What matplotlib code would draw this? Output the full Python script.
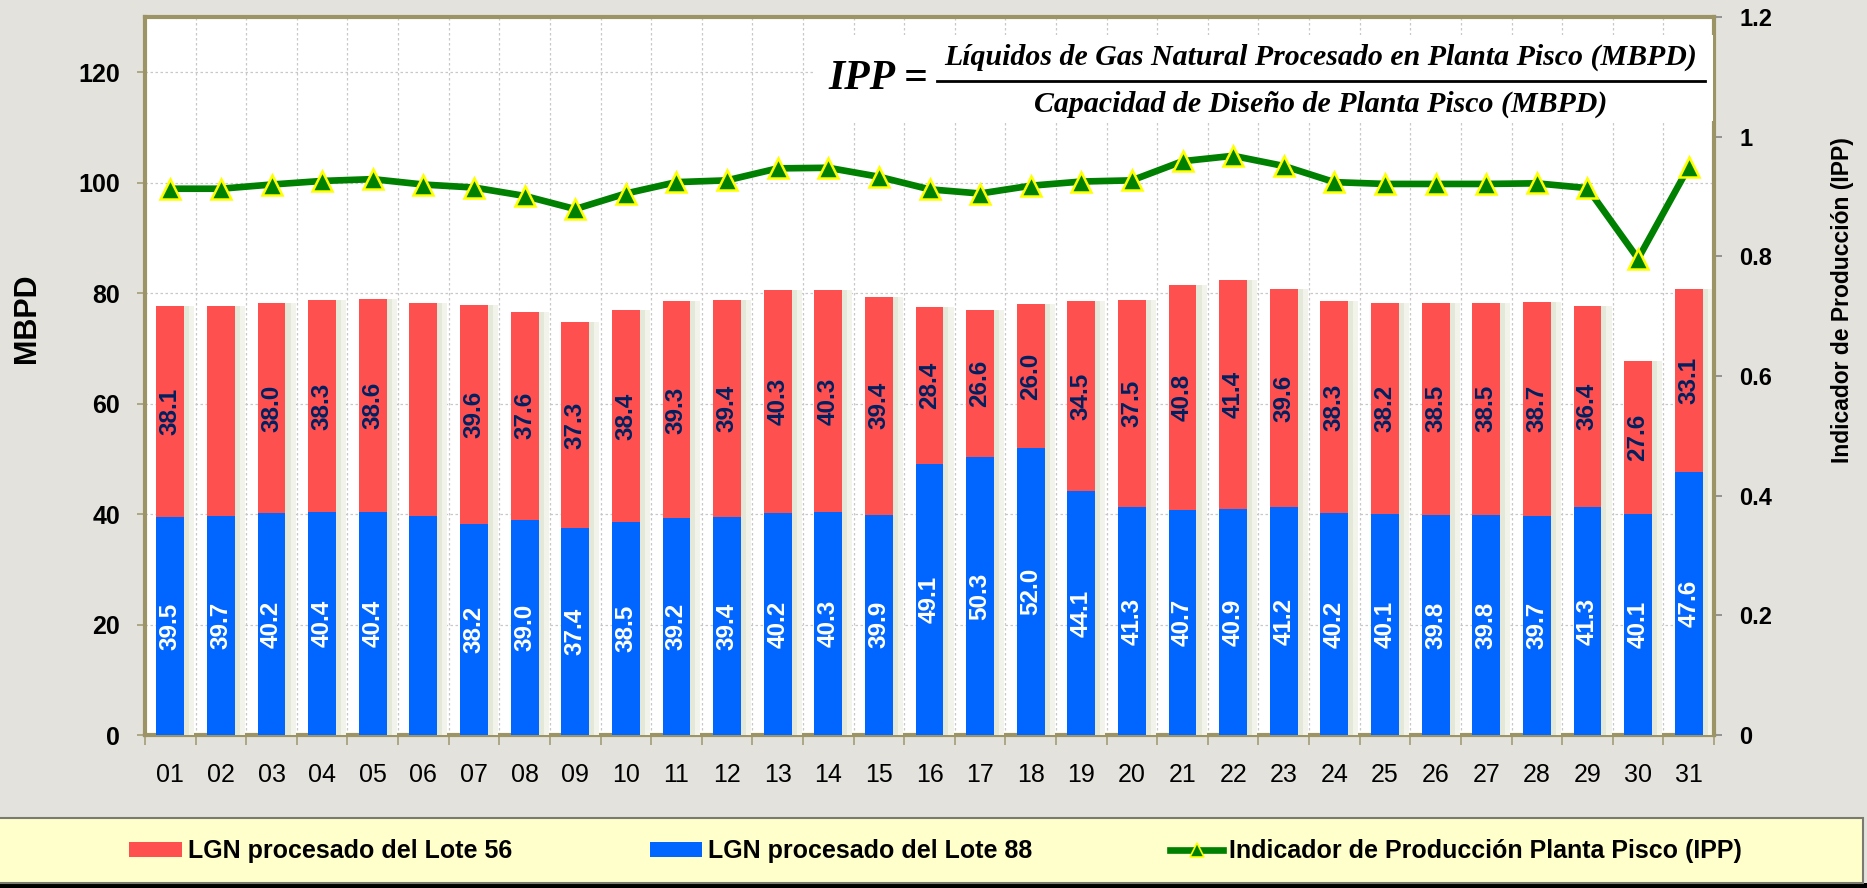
import matplotlib
matplotlib.use('Agg')
import matplotlib.pyplot as plt
import numpy as np
from matplotlib.patches import Rectangle, Patch
from matplotlib.lines import Line2D

# ---------------- data ----------------
days = ['01', '02', '03', '04', '05', '06', '07', '08', '09', '10',
        '11', '12', '13', '14', '15', '16', '17', '18', '19', '20',
        '21', '22', '23', '24', '25', '26', '27', '28', '29', '30', '31']
lote56 = [38.1, 37.9, 38.0, 38.3, 38.6, 38.5, 39.6, 37.6, 37.3, 38.4,
          39.3, 39.4, 40.3, 40.3, 39.4, 28.4, 26.6, 26.0, 34.5, 37.5,
          40.8, 41.4, 39.6, 38.3, 38.2, 38.5, 38.5, 38.7, 36.4, 27.6, 33.1]
lote88 = [39.5, 39.7, 40.2, 40.4, 40.4, 39.7, 38.2, 39.0, 37.4, 38.5,
          39.2, 39.4, 40.2, 40.3, 39.9, 49.1, 50.3, 52.0, 44.1, 41.3,
          40.7, 40.9, 41.2, 40.2, 40.1, 39.8, 39.8, 39.7, 41.3, 40.1, 47.6]
ipp = [0.913, 0.913, 0.920, 0.926, 0.929, 0.920, 0.915, 0.901, 0.879, 0.905,
       0.924, 0.927, 0.947, 0.948, 0.933, 0.912, 0.905, 0.918, 0.925, 0.927,
       0.959, 0.968, 0.951, 0.924, 0.921, 0.921, 0.921, 0.922, 0.914, 0.796, 0.949]
hidden_labels56 = ['02', '06']
hidden_labels88 = ['06']
left_ticks = [0, 20, 40, 60, 80, 100, 120]
right_ticks = [0, 0.2, 0.4, 0.6, 0.8, 1.0, 1.2]
right_tick_labels = ['0', '0.2', '0.4', '0.6', '0.8', '1', '1.2']
series_names = ['LGN procesado del Lote 56', 'LGN procesado del Lote 88',
                'Indicador de Producción Planta Pisco (IPP)']

# ---------------- style ----------------
plt.rcParams['font.family'] = ['Liberation Sans', 'DejaVu Sans']
RED = '#FF5050'
BLUE = '#0066FF'
GREEN = '#008000'
OLIVE = '#9C9464'
BG = '#E3E2DD'
W, H = 1867, 888

fig = plt.figure(figsize=(W / 100, H / 100), dpi=100, facecolor=BG)
ax = fig.add_axes([145 / W, (H - 735) / H, (1714 - 145) / W, (735 - 17) / H])
ax.set_facecolor('white')

x = np.arange(1, len(days) + 1)
totals = np.array(lote56) + np.array(lote88)
bw = 0.55

# soft shadow on the right of the bars
ax.bar(x + 0.20, totals, bw, color='#F2F4EC', lw=0, zorder=2.7)
ax.bar(x + 0.10, totals, bw, color='#E3E8D8', lw=0, zorder=2.8)
ax.bar(x, lote88, bw, color=BLUE, lw=0, zorder=3, label=series_names[1])
ax.bar(x, lote56, bw, bottom=lote88, color=RED, lw=0, zorder=3, label=series_names[0])

for xi, d, b, r in zip(x, days, lote88, lote56):
    if d not in hidden_labels88:
        ax.text(xi, b / 2, f'{b:.1f}', rotation=90, ha='center', va='center',
                color='white', fontsize=17.5, fontweight='bold', zorder=5)
    if d not in hidden_labels56:
        ax.text(xi, b + r / 2, f'{r:.1f}', rotation=90, ha='center', va='center',
                color='#002060', fontsize=17.5, fontweight='bold', zorder=5)

ax.set_xlim(0.5, len(days) + 0.5)
ax.set_ylim(0, 130)
ax.set_yticks(left_ticks)
ax.set_yticklabels([str(t) for t in left_ticks], fontweight='bold')
ax.set_xticks(x)
ax.set_xticklabels(days)
ax.set_xticks(np.arange(0.5, len(days) + 1, 1), minor=True)
ax.tick_params(axis='y', which='major', length=6, width=1.3, color='#A8A27E',
               pad=12, labelsize=18)
ax.tick_params(axis='x', which='major', length=0, pad=20, labelsize=18)
ax.tick_params(axis='x', which='minor', length=7, width=1.3, color='#A8A27E')
ax.yaxis.grid(True, linestyle=(0, (2, 2)), color='#C8C8C8', lw=0.9)
ax.xaxis.grid(True, which='minor', linestyle=(0, (2, 2)), color='#C8C8C8', lw=0.9)
ax.set_axisbelow(True)
for s in ['left', 'bottom', 'top']:
    ax.spines[s].set_color(OLIVE)
    ax.spines[s].set_linewidth(3)
ax.spines['right'].set_visible(False)

ax2 = ax.twinx()
ax2.plot(x, ipp, color=GREEN, lw=4.8, marker='^', ms=14, mfc=GREEN,
         mec='#FFFF00', mew=1.8, zorder=5, label=series_names[2])
ax2.set_ylim(0, 1.2)
ax2.set_yticks(right_ticks)
ax2.set_yticklabels(right_tick_labels, fontweight='bold')
ax2.tick_params(axis='y', length=6, width=1.3, color='#8C8C8C', pad=12, labelsize=17)
for s in ['left', 'bottom', 'top']:
    ax2.spines[s].set_visible(False)
ax2.spines['right'].set_color(OLIVE)
ax2.spines['right'].set_linewidth(3)

# axis titles
fig.text(27 / W, (H - 318) / H, 'MBPD', rotation=90, ha='center', va='center',
         fontsize=22, fontweight='bold')
fig.text(1842 / W, (H - 300) / H, 'Indicador de Producción (IPP)', rotation=90,
         ha='center', va='center', fontsize=16.5, fontweight='bold')

# formula box
ax2.add_patch(Rectangle((815 / W, (H - 121) / H), (1713 - 815) / W, 86 / H,
                        transform=fig.transFigure, facecolor='white',
                        edgecolor='none', zorder=10, clip_on=False))
serif = ['Liberation Serif', 'DejaVu Serif']
ax2.text(828 / W, (H - 79) / H, 'IPP =', transform=fig.transFigure, ha='left',
         va='center', fontsize=30, fontweight='bold', fontstyle='italic',
         family=serif, zorder=11)
ax2.text(1321 / W, (H - 57) / H,
         'Líquidos de Gas Natural Procesado en Planta Pisco (MBPD)',
         transform=fig.transFigure, ha='center', va='center', fontsize=21.5,
         fontweight='bold', fontstyle='italic', family=serif, zorder=11)
ax2.text(1321 / W, (H - 104) / H,
         'Capacidad de Diseño de Planta Pisco (MBPD)',
         transform=fig.transFigure, ha='center', va='center', fontsize=21.5,
         fontweight='bold', fontstyle='italic', family=serif, zorder=11)
ax2.add_line(Line2D([937 / W, 1705 / W], [(H - 81) / H, (H - 81) / H],
                    transform=fig.transFigure, color='black', lw=2,
                    zorder=11, clip_on=False))

# legend box
fig.patches.append(Rectangle((0, 0), 1, 5 / H, transform=fig.transFigure,
                             facecolor='black', edgecolor='none', zorder=0))
fig.patches.append(Rectangle((-0.01, 5 / H), 1863 / W + 0.01, 65 / H,
                             transform=fig.transFigure, facecolor='#FFFFCC',
                             edgecolor='#7A7A70', lw=1.5, zorder=1))
handles = [Patch(facecolor=RED, edgecolor='none'),
           Patch(facecolor=BLUE, edgecolor='none'),
           Line2D([], [], color=GREEN, lw=4.8, marker='^', ms=10, mfc=GREEN,
                  mec='#FFFF00', mew=1.2)]
fig.legend(handles, series_names, ncol=3, mode='expand', loc='center',
           bbox_to_anchor=(129 / W, (H - 861) / H, (1742 - 129) / W, 20 / H),
           frameon=False, prop={'size': 18, 'weight': 'bold'},
           handlelength=2.1, handleheight=0.55, handletextpad=0.25,
           borderpad=0, borderaxespad=0)

fig.savefig('out.png', dpi=100, facecolor=BG)
